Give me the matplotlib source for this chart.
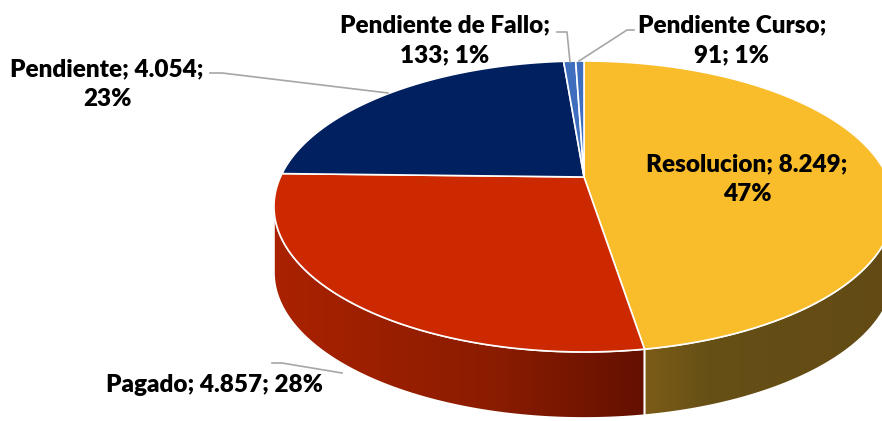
import numpy as np
import matplotlib.pyplot as plt
from matplotlib.patches import Polygon

categorias = ['Resolucion', 'Pagado', 'Pendiente', 'Pendiente de Fallo', 'Pendiente Curso']
valores = [8249, 4857, 4054, 133, 91]
colores = ['#F9BC2A', '#CC2900', '#002060', '#3F6EBF', '#3F6EBF']

# pie geometry in pixels (perspective tilted disc)
cx, cy = 584, 177
A, B, k = 303.6, 139.5, 0.2027
prof = 66

def proj(t, dy=0):
    u, v = np.sin(t), np.cos(t)
    d = 1 + k * v
    return cx + A * u / d, cy - B * v / d + dy

total = sum(valores)
frac = np.cumsum([0] + valores) / total
ang = frac * 2 * np.pi

fig = plt.figure(figsize=(8.82, 4.21), dpi=100)
ax = fig.add_axes([0, 0, 1, 1])

# side walls (front half only), gradients left -> right
t_der = np.arccos(-k)
t_izq = 2 * np.pi - t_der
grad_lados = {0: [(0.0, '#7C5C16'), (0.25, '#665016'), (1.0, '#634A14')],
              1: [(0.0, '#AA2200'), (0.6, '#8A1C00'), (1.0, '#641000')]}
for i, paradas in grad_lados.items():
    s, e = max(ang[i], t_der), min(ang[i + 1], t_izq)
    if s >= e:
        continue
    t = np.linspace(s, e, 120)
    x, y = proj(t)
    xb, yb = proj(t[::-1], prof)
    pts = np.column_stack([np.r_[x, xb], np.r_[y, yb]])
    poly = Polygon(pts, closed=True, facecolor='none', edgecolor='white', lw=1.2, zorder=3)
    ax.add_patch(poly)
    x0, x1 = pts[:, 0].min(), pts[:, 0].max()
    xs = np.linspace(0, 1, 300)
    pos = [p for p, c in paradas]
    rgb = np.array([plt.matplotlib.colors.to_rgb(c) for p, c in paradas])
    img = np.stack([np.interp(xs, pos, rgb[:, j]) for j in range(3)], axis=-1)[None, :, :]
    im = ax.imshow(img, extent=[x0, x1, pts[:, 1].max(), pts[:, 1].min()],
                   aspect='auto', zorder=2, interpolation='bilinear')
    im.set_clip_path(poly)

# top face
for i in range(len(valores)):
    t = np.linspace(ang[i], ang[i + 1], max(int(200 * (frac[i + 1] - frac[i])), 4))
    x, y = proj(t)
    pts = np.column_stack([np.r_[cx, x], np.r_[cy, y]])
    ax.add_patch(Polygon(pts, closed=True, facecolor=colores[i], edgecolor='white',
                         lw=1.2, zorder=4))

def etiqueta(i, multi):
    v = f"{valores[i]:,}".replace(',', '.')
    p = f"{round(100 * valores[i] / total)}%"
    if multi == 1:
        return f"{categorias[i]};\n{v}; {p}"
    if multi == 2:
        return f"{categorias[i]}; {v};\n{p}"
    return f"{categorias[i]}; {v}; {p}"

fuente = dict(fontsize=17.5, fontweight='heavy', family=['Lato', 'DejaVu Sans'],
              ha='center', va='center', linespacing=1.45, color='black', zorder=6)
ax.text(747, 179, etiqueta(0, 2), **fuente)
ax.text(214, 385, etiqueta(1, 0), **fuente)
ax.text(107, 84, etiqueta(2, 2), **fuente)
ax.text(445, 40, etiqueta(3, 1), **fuente)
ax.text(732, 40, etiqueta(4, 1), **fuente)

gris = '#A6A6A6'
ax.plot([557, 567, 570], [32, 32, 62], color=gris, lw=1.2, zorder=5)
ax.plot([634, 627, 579], [30, 30, 61], color=gris, lw=1.2, zorder=5)
ax.plot([210, 222, 388], [73, 73, 93], color=gris, lw=1.2, zorder=5)
ax.plot([272, 282, 342], [363, 363, 373], color=gris, lw=1.2, zorder=5)

ax.set_xlim(0, 882)
ax.set_ylim(421, 0)
ax.axis('off')
fig.savefig('out.png', dpi=100)
